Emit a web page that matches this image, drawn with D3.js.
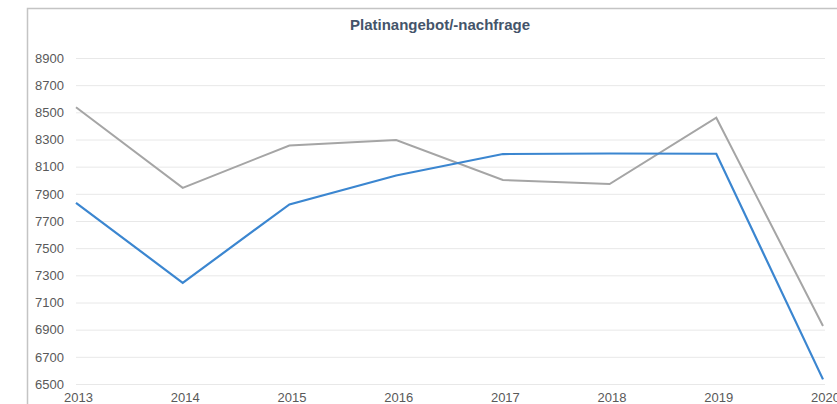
<!DOCTYPE html>
<html>
<head>
<meta charset="utf-8">
<script src="https://cdn.jsdelivr.net/npm/d3@7"></script>
<style>
  html, body { margin: 0; padding: 0; background: #fff; }
  svg { display: block; font-family: "Liberation Sans", Arial, sans-serif; }
</style>
</head>
<body>
<div id="chart"></div>
<script>
  // Data.
  var years = [2013, 2014, 2015, 2016, 2017, 2018, 2019, 2020];
  var angebot = [7834, 7245, 7822, 8035, 8193, 8197, 8195, 6534];
  var nachfrage = [8537, 7944, 8256, 8296, 8002, 7972, 8460, 6927];
  var yTicks = [6500, 6700, 6900, 7100, 7300, 7500, 7700, 7900, 8100, 8300, 8500, 8700, 8900];
  var title = 'Platinangebot/-nachfrage';

  var width = 837, height = 404;

  var svg = d3.select('#chart').append('svg')
    .attr('width', width)
    .attr('height', height);

  var x = d3.scaleLinear()
    .domain([2013, 2020])
    .range([76, 823]);

  var y = d3.scaleLinear()
    .domain([6500, 8900])
    .range([384, 58]);

  // frame (only top and left edges are visible in the crop)
  svg.append('path')
    .attr('d', 'M27.5,' + height + 'V8.5H' + width)
    .attr('fill', 'none')
    .attr('stroke', '#c4c4c4')
    .attr('stroke-width', 1.5);

  // gridlines
  svg.append('g')
    .selectAll('line')
    .data(yTicks)
    .join('line')
      .attr('x1', 76)
      .attr('x2', 825)
      .attr('y1', function(d) { return y(d) + 0.5; })
      .attr('y2', function(d) { return y(d) + 0.5; })
      .attr('stroke', '#e8e8e8')
      .attr('stroke-width', 1);

  // y labels
  var yAxis = d3.axisLeft(y).tickValues(yTicks).tickSize(0).tickPadding(0).tickFormat(d3.format('d'));
  svg.append('g')
    .attr('transform', 'translate(64,0)')
    .call(yAxis)
    .call(function(g) { g.select('.domain').remove(); })
    .selectAll('text')
      .attr('fill', '#595959')
      .attr('font-size', 13)
      .attr('font-family', '"Liberation Sans", Arial, sans-serif');

  // x labels
  var xAxis = d3.axisBottom(x).tickValues(years).tickSize(0).tickPadding(0).tickFormat(d3.format('d'));
  svg.append('g')
    .attr('transform', 'translate(2,393)')
    .call(xAxis)
    .call(function(g) { g.select('.domain').remove(); })
    .selectAll('text')
      .attr('fill', '#595959')
      .attr('font-size', 13)
      .attr('font-family', '"Liberation Sans", Arial, sans-serif');

  var line = d3.line()
    .x(function(d, i) { return x(years[i]); })
    .y(function(d) { return y(d); });

  svg.append('path')
    .attr('d', line(nachfrage))
    .attr('fill', 'none')
    .attr('stroke', '#a5a5a5')
    .attr('stroke-width', 2);

  svg.append('path')
    .attr('d', line(angebot))
    .attr('fill', 'none')
    .attr('stroke', '#3b86d0')
    .attr('stroke-width', 2.2);

  // title
  svg.append('text')
    .attr('x', 440)
    .attr('y', 30)
    .attr('text-anchor', 'middle')
    .attr('font-size', 15)
    .attr('font-weight', 'bold')
    .attr('fill', '#44546a')
    .text(title);
</script>
</body>
</html>
